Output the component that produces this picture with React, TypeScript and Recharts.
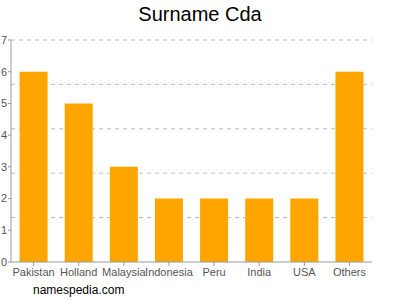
import { BarChart, Bar, XAxis, YAxis, CartesianGrid } from "recharts";

const countries = ["Pakistan", "Holland", "Malaysia", "Indonesia", "Peru", "India", "USA", "Others"];
const counts = [6, 5, 3, 2, 2, 2, 2, 6];
const yTicks = [0, 1, 2, 3, 4, 5, 6, 7];
const gridValues = [1.4, 2.8, 4.2, 5.6, 7];

const data = countries.map((name, i) => ({ name, value: counts[i] }));

const font = "'Liberation Sans', Arial, sans-serif";

export default function App() {
  return (
    <div style={{ position: "absolute", left: 0, top: 0, width: 400, height: 300, fontFamily: font }}>
      <div
        style={{
          position: "absolute",
          top: 3,
          left: 0,
          width: 400,
          textAlign: "center",
          fontSize: 20,
          color: "#000",
        }}
      >
        Surname Cda
      </div>
      <BarChart
        width={400}
        height={300}
        data={data}
        margin={{ top: 40, right: 28, left: 0, bottom: 18 }}
        barCategoryGap="19%"
      >
        <CartesianGrid
          vertical={false}
          horizontalValues={gridValues}
          stroke="#bbb"
          strokeDasharray="4 4"
        />
        <XAxis
          dataKey="name"
          interval={0}
          height={20}
          tick={{ fontSize: 11, fill: "#555", fontFamily: font }}
          tickSize={4}
          tickLine={{ stroke: "#999" }}
          axisLine={{ stroke: "#999" }}
        />
        <YAxis
          width={11}
          domain={[0, 7]}
          ticks={yTicks}
          interval={0}
          tickSize={3}
          tickMargin={1}
          tick={{ fontSize: 11, fill: "#555", fontFamily: font }}
          tickLine={{ stroke: "#999" }}
          axisLine={{ stroke: "#999" }}
        />
        <Bar dataKey="value" fill="#FFA500" isAnimationActive={false} />
      </BarChart>
      <div style={{ position: "absolute", left: 33, top: 283, fontSize: 12, color: "#000" }}>
        namespedia.com
      </div>
    </div>
  );
}
